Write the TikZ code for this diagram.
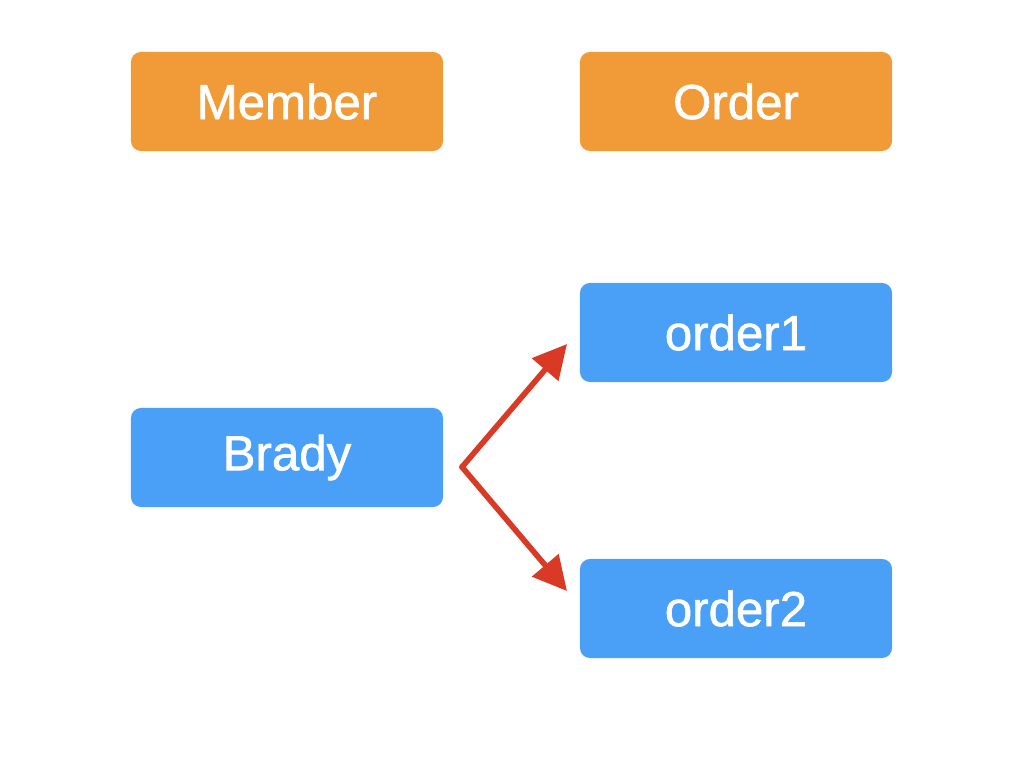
\documentclass[tikz,border=0pt]{standalone}
\usepackage{fontspec}
\setmainfont{Liberation Sans}
\newfontfamily\medfont{Liberation Sans}[FakeBold=1.2]
\usetikzlibrary{arrows.meta}
\definecolor{boxorange}{HTML}{F09A38}
\definecolor{boxblue}{HTML}{4AA0F7}
\definecolor{arrowred}{HTML}{D93A26}
\begin{document}
\begin{tikzpicture}[x=0.025cm,y=-0.025cm,
  box/.style={rounded corners=0.25cm, minimum width=7.8cm, minimum height=2.475cm,
    inner sep=0pt, text=white, font=\medfont\fontsize{35}{42}\selectfont},
  classbox/.style={box, fill=boxorange},
  objbox/.style={box, fill=boxblue},
  link/.style={draw=arrowred, line width=4pt, line cap=round, line join=round,
    -{Triangle[length=24pt,width=24pt]}}]
\useasboundingbox (0,0) rectangle (1024,768);
\node[classbox] (member) at (287,101.5) {Member};
\node[classbox] (order) at (736,101.5) {Order};
\node[objbox] (order1) at (736,332.5) {order1};
\node[objbox] (brady) at (287,457.5) {Brady};
\node[objbox] (order2) at (736,608.5) {order2};
\coordinate (fork) at (462,467);
\coordinate (tip1) at (567,344);
\coordinate (tip2) at (567,591);
\draw[link] (fork) -- (tip1);
\draw[link] (fork) -- (tip2);
\end{tikzpicture}
\end{document}
